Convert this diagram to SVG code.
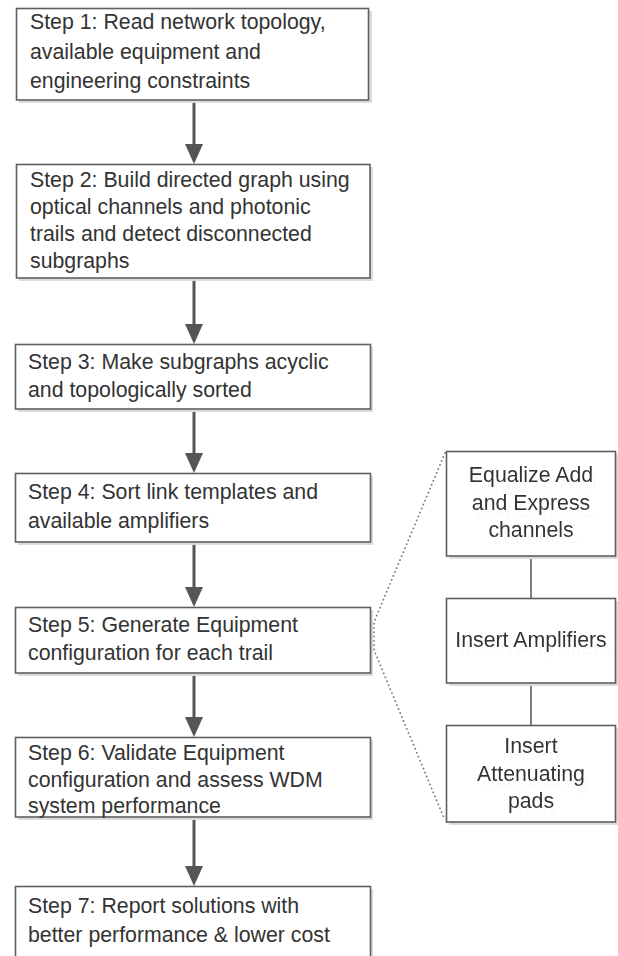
<svg xmlns="http://www.w3.org/2000/svg" width="618" height="956" viewBox="0 0 618 956">
<style>
.box{fill:#fff;stroke:#5f5f5f;stroke-width:1.6}
.sh{fill:#dcdcdc}
.t{font-family:"Liberation Sans",Arial,sans-serif;font-size:21.3px;fill:#333}
.c{text-anchor:middle}
.arr{stroke:#555;stroke-width:3;fill:none}
.lnk{stroke:#5f5f5f;stroke-width:1.6;fill:none}
.dot{stroke:#7a7a7a;stroke-width:1.8;fill:none;stroke-dasharray:0.1 4.2;stroke-linecap:round}
</style>
<defs>
<marker id="ah" markerUnits="userSpaceOnUse" viewBox="0 0 20 18" markerWidth="20" markerHeight="18" refX="12" refY="9" orient="auto">
<path d="M0,0 L20,9 L0,18 z" fill="#555"/>
</marker>
<filter id="ghost" x="-10%" y="-20%" width="130%" height="160%">
<feOffset in="SourceGraphic" dx="4" dy="7" result="o"/>
<feColorMatrix in="o" type="matrix" values="0 0 0 0 0.9 0 0 0 0 0.9 0 0 0 0 0.9 0 0 0 0.45 0" result="g"/>
<feMerge><feMergeNode in="g"/><feMergeNode in="SourceGraphic"/></feMerge>
</filter>
</defs>
<rect width="618" height="956" fill="#fff"/>

<g id="connectors">
<line class="arr" x1="194" y1="100" x2="194" y2="156" marker-end="url(#ah)"/>
<line class="arr" x1="194" y1="278" x2="194" y2="336" marker-end="url(#ah)"/>
<line class="arr" x1="194" y1="409" x2="194" y2="465" marker-end="url(#ah)"/>
<line class="arr" x1="194" y1="542" x2="194" y2="599" marker-end="url(#ah)"/>
<line class="arr" x1="194" y1="673" x2="194" y2="729" marker-end="url(#ah)"/>
<line class="arr" x1="194" y1="817" x2="194" y2="878" marker-end="url(#ah)"/>
<line class="lnk" x1="531" y1="556" x2="531" y2="598"/>
<line class="lnk" x1="531" y1="683" x2="531" y2="725"/>
<path class="dot" d="M445,453 L374,622 L374,650 L444,818"/>
</g>

<g id="step1">
<rect class="sh" x="19" y="11" width="353" height="92"/>
<rect class="box" x="16.5" y="8.5" width="352" height="91.5"/>
<text class="t" x="30" y="29">Step 1: Read network topology,</text>
<text class="t" x="30" y="58.5">available equipment and</text>
<text class="t" x="30" y="88">engineering constraints</text>
</g>

<g id="step2">
<rect class="sh" x="19" y="167" width="354" height="114"/>
<rect class="box" x="16.5" y="164.5" width="353.5" height="113.5"/>
<text class="t" x="30" y="187">Step 2: Build directed graph using</text>
<text class="t" x="30" y="214">optical channels and photonic</text>
<text class="t" x="30" y="241">trails and detect disconnected</text>
<text class="t" x="30" y="268">subgraphs</text>
</g>

<g id="step3">
<rect class="sh" x="18" y="347" width="355" height="65"/>
<rect class="box" x="15.5" y="344.5" width="355" height="64.5"/>
<text class="t" x="28" y="369">Step 3: Make subgraphs acyclic</text>
<text class="t" x="28" y="397">and topologically sorted</text>
</g>

<g id="step4">
<rect class="sh" x="18" y="476" width="355" height="69"/>
<rect class="box" x="15.5" y="473.5" width="355" height="68.5"/>
<text class="t" x="28" y="499">Step 4: Sort link templates and</text>
<text class="t" x="28" y="528">available amplifiers</text>
</g>

<g id="step5">
<rect class="sh" x="18" y="610" width="355" height="66"/>
<rect class="box" x="15.5" y="607.5" width="355" height="65.5"/>
<text class="t" x="28" y="632">Step 5: Generate Equipment</text>
<text class="t" x="28" y="660">configuration for each trail</text>
</g>

<g id="step6">
<rect class="sh" x="18" y="740" width="355" height="80"/>
<rect class="box" x="15.5" y="737.5" width="355" height="79.5"/>
<text class="t" x="28" y="760">Step 6: Validate Equipment</text>
<text class="t" x="28" y="787">configuration and assess WDM</text>
<text class="t" x="28" y="813">system performance</text>
</g>

<g id="step7">
<rect class="sh" x="18" y="889" width="355" height="70"/>
<rect class="box" x="15.5" y="886.5" width="355" height="72"/>
<text class="t" x="28" y="913">Step 7: Report solutions with</text>
<text class="t" x="28" y="942">better performance &amp; lower cost</text>
</g>

<g id="equalize">
<rect class="sh" x="449" y="454" width="169" height="105"/>
<rect class="box" x="446.5" y="451.5" width="169" height="104.5"/>
<g filter="url(#ghost)">
<text class="t c" x="531" y="482">Equalize Add</text>
<text class="t c" x="531" y="510">and Express</text>
<text class="t c" x="531" y="537">channels</text>
</g>
</g>

<g id="amplifiers">
<rect class="sh" x="449" y="601" width="169" height="85"/>
<rect class="box" x="446.5" y="598.5" width="169" height="84.5"/>
<g filter="url(#ghost)">
<text class="t c" x="531" y="647">Insert Amplifiers</text>
</g>
</g>

<g id="attenuating">
<rect class="sh" x="449" y="728" width="169" height="97"/>
<rect class="box" x="446.5" y="725.5" width="169" height="96.5"/>
<g filter="url(#ghost)">
<text class="t c" x="531" y="753">Insert</text>
<text class="t c" x="531" y="781">Attenuating</text>
<text class="t c" x="531" y="808">pads</text>
</g>
</g>
</svg>
